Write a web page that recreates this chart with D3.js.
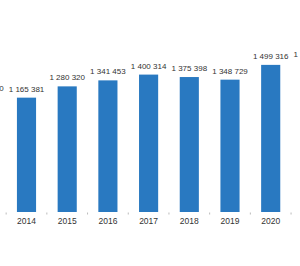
<!DOCTYPE html>
<html>
<head>
<meta charset="utf-8">
<script src="https://cdn.jsdelivr.net/npm/d3@7"></script>
<style>
  html, body { margin: 0; padding: 0; background: #fff; }
  svg { display: block; }
</style>
</head>
<body>
<div id="chart"></div>
<script>
// Data (chart is cropped: 2013 and 2021 fall mostly outside the frame)
const years = ['2013', '2014', '2015', '2016', '2017', '2018', '2019', '2020', '2021'];
const values = [1172310, 1165381, 1280320, 1341453, 1400314, 1375398, 1348729, 1499316, 1520140];

const W = 300;
const H = 266;
const baseY = 212;

const fmt = v => d3.format(',')(v).replace(/,/g, ' ');

const svg = d3.select('#chart')
  .append('svg')
  .attr('width', W)
  .attr('height', H)
  .attr('viewBox', `0 0 ${W} ${H}`);

const step = 40.7;
const x = d3.scaleBand()
  .domain(years)
  .range([-34.55, -34.55 + step * years.length])
  .paddingInner(0.53)
  .paddingOuter(0.265);

const y = d3.scaleLinear()
  .domain([0, 1600000])
  .range([baseY, 55]);

const data = years.map((yr, i) => ({ year: yr, value: values[i] }));

// Bars
svg.selectAll('rect.bar')
  .data(data)
  .join('rect')
  .attr('class', 'bar')
  .attr('x', d => x(d.year))
  .attr('y', d => y(d.value))
  .attr('width', x.bandwidth())
  .attr('height', d => y(0) - y(d.value))
  .attr('fill', '#2979c1');

// Value labels
svg.selectAll('text.val')
  .data(data)
  .join('text')
  .attr('class', 'val')
  .attr('x', d => x(d.year) + x.bandwidth() / 2)
  .attr('y', d => y(d.value) - 6)
  .attr('text-anchor', 'middle')
  .attr('font-family', 'Liberation Sans, Arial, sans-serif')
  .attr('font-size', '8px')
  .attr('fill', '#333')
  .text(d => fmt(d.value));

// Small tick marks between the bars
const gap = x.step() - x.bandwidth();
svg.selectAll('line.tick-mark')
  .data(years)
  .join('line')
  .attr('class', 'tick-mark')
  .attr('x1', d => x(d) + x.bandwidth() + gap / 2)
  .attr('x2', d => x(d) + x.bandwidth() + gap / 2)
  .attr('y1', baseY + 0.5)
  .attr('y2', baseY + 2.5)
  .attr('stroke', '#bbb')
  .attr('stroke-width', 1);

// X axis labels
svg.append('g')
  .attr('transform', `translate(0,${baseY})`)
  .call(d3.axisBottom(x).tickSize(0).tickPadding(6))
  .call(ax => ax.select('.domain').remove())
  .call(ax => ax.selectAll('text')
    .attr('font-family', 'Liberation Sans, Arial, sans-serif')
    .attr('font-size', '8.5px')
    .attr('fill', '#333'));
</script>
</body>
</html>
